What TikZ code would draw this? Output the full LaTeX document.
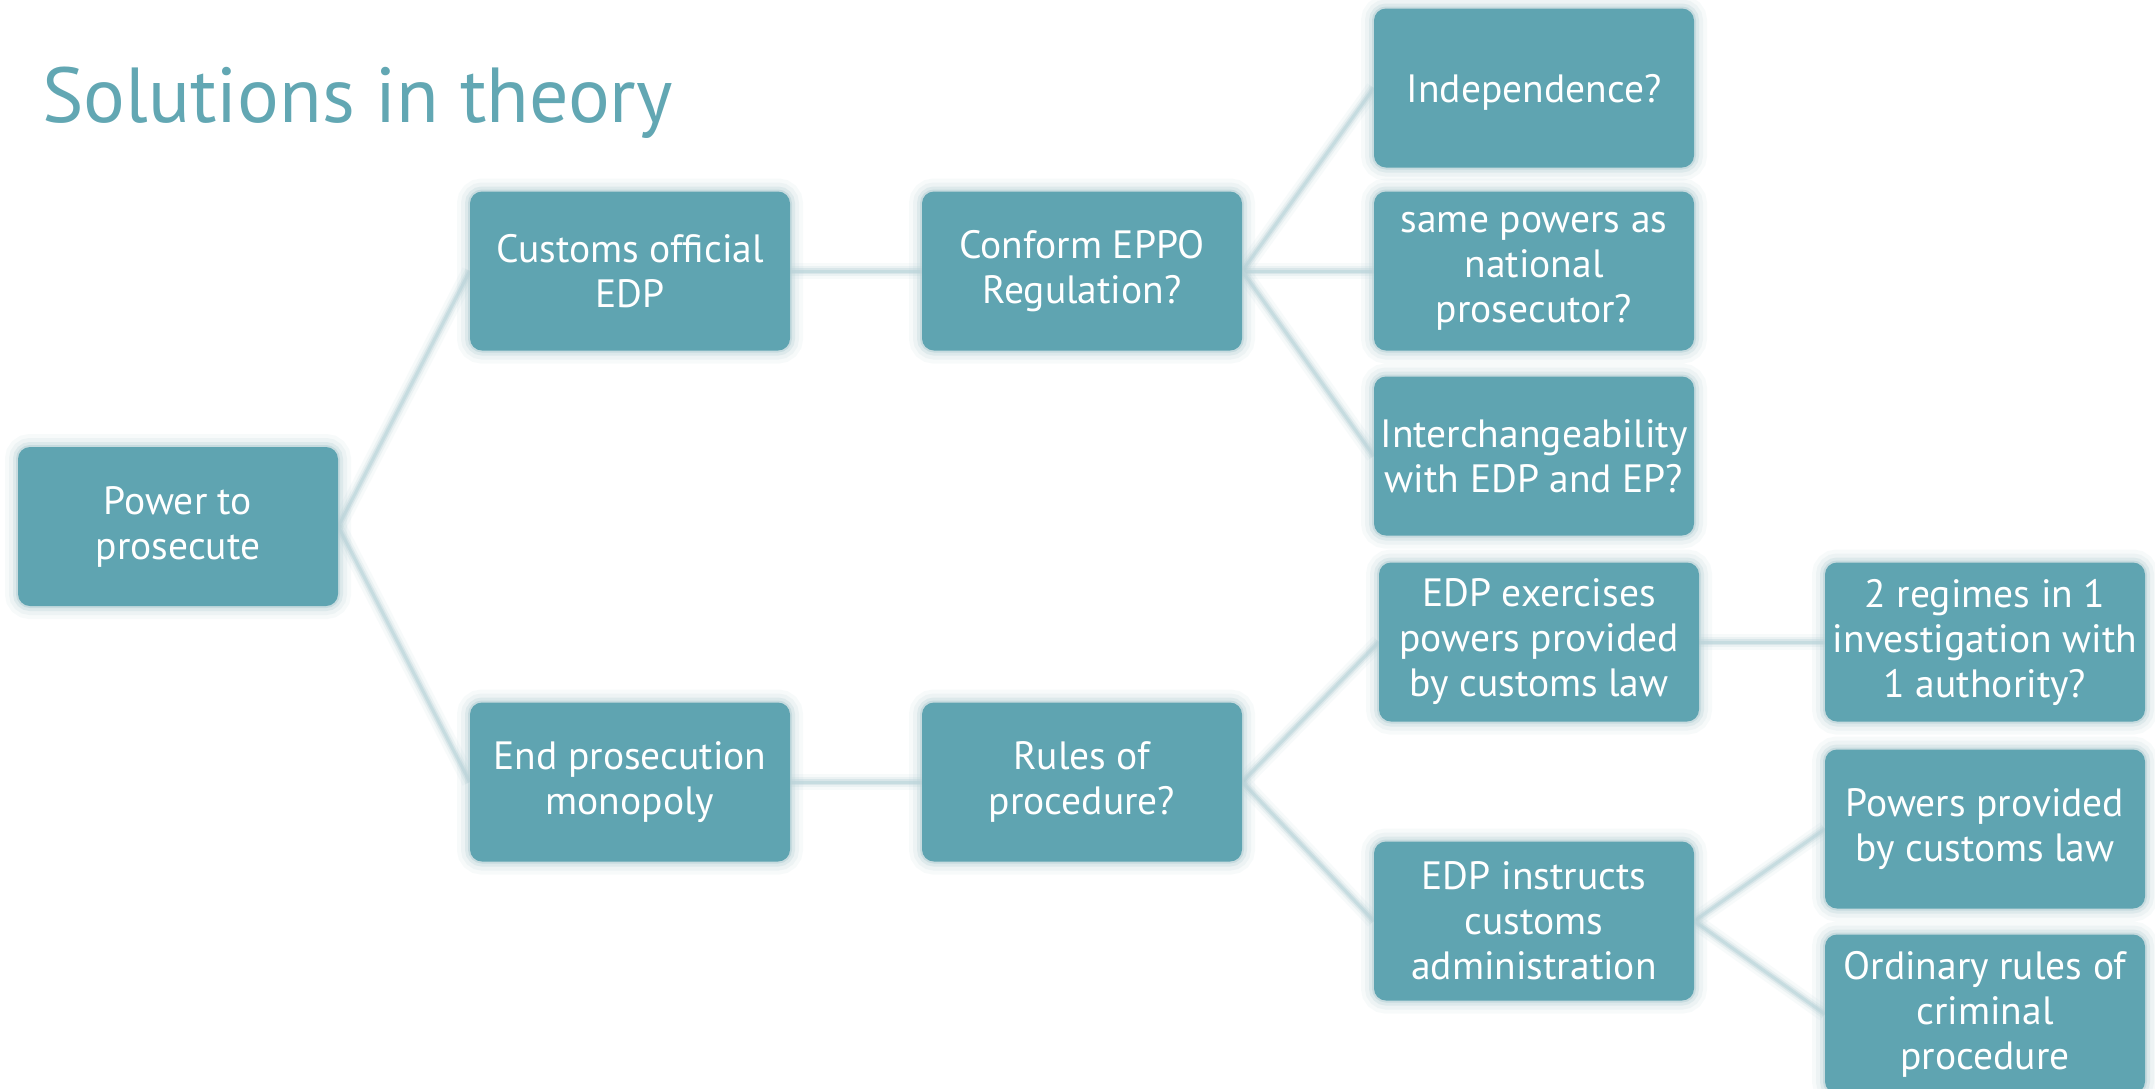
\documentclass[tikz,border=0pt]{standalone}
\usepackage{fontspec}
\setmainfont{PT Sans}
\pgfdeclarelayer{background}
\pgfsetlayers{background,main}
\definecolor{boxfill}{HTML}{5FA4B1}
\definecolor{titlec}{HTML}{62A7B3}
\definecolor{glowc}{HTML}{B9D2D7}
\definecolor{linkc}{HTML}{C6DCE0}
\tikzset{
  x=1pt, y=-1pt,
  box/.style={
    rectangle, rounded corners=12pt, fill=boxfill, text=white,
    minimum width=320pt, minimum height=159pt, inner sep=0pt,
    align=center, font=\fontsize{39.5}{45}\selectfont,
    execute at begin node={\rule{0pt}{37pt}},
    preaction={draw=glowc, line width=26pt, opacity=.10},
    preaction={draw=glowc, line width=18pt, opacity=.16},
    preaction={draw=glowc, line width=10pt, opacity=.30},
    preaction={draw=glowc, line width=4pt, opacity=.60}
  },
  link/.style={
    preaction={draw=glowc, line width=16pt, opacity=.10},
    preaction={draw=glowc, line width=10pt, opacity=.18},
    preaction={draw=glowc, line width=6pt, opacity=.35},
    draw=linkc, line width=3pt
  }
}
\begin{document}
\begin{tikzpicture}
\useasboundingbox (0,0) rectangle (2155,1088);

% heading
\node[anchor=base west, inner sep=0pt, text=titlec,
      font=\fontsize{78}{84}\selectfont] (title) at (42,122) {Solutions in theory};

% tree boxes
\node[box] (power)   at (178,526.5) {Power to\\prosecute};
\node[box] (customs) at (630,271)   {Customs official\\EDP};
\node[box] (endmono) at (630,782)   {End prosecution\\monopoly};
\node[box] (conform) at (1082,271)  {Conform EPPO\\Regulation?};
\node[box] (rules)   at (1082,782)  {Rules of\\procedure?};
\node[box] (indep)   at (1534,88)   {Independence?};
\node[box] (same)    at (1534,271)  {same powers as\\national\\prosecutor?};
\node[box] (inter)   at (1534,456)  {Interchangeability\\with EDP and EP?};
\node[box] (exerc)   at (1539,642)  {EDP exercises\\powers provided\\by customs law};
\node[box] (instr)   at (1534,921)  {EDP instructs\\customs\\administration};
\node[box] (regimes) at (1985,642)  {2 regimes in 1\\investigation with\\1 authority?};
\node[box] (powers)  at (1985,829)  {Powers provided\\by customs law};
\node[box] (ordin)   at (1985,1014) {Ordinary rules of\\criminal\\procedure};

% white page and connectors, behind the boxes
\begin{pgfonlayer}{background}
\fill[white] (0,0) rectangle (2155,1088);
\draw[link] (power.east)   -- (customs.west);
\draw[link] (power.east)   -- (endmono.west);
\draw[link] (customs.east) -- (conform.west);
\draw[link] (endmono.east) -- (rules.west);
\draw[link] (conform.east) -- (indep.west);
\draw[link] (conform.east) -- (same.west);
\draw[link] (conform.east) -- (inter.west);
\draw[link] (rules.east)   -- (exerc.west);
\draw[link] (rules.east)   -- (instr.west);
\draw[link] (exerc.east)   -- (regimes.west);
\draw[link] (instr.east)   -- (powers.west);
\draw[link] (instr.east)   -- (ordin.west);
\end{pgfonlayer}
\end{tikzpicture}
\end{document}
